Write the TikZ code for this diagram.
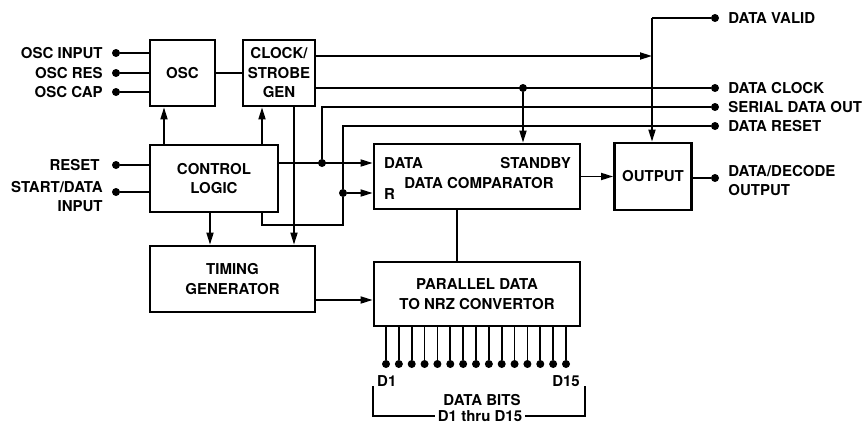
\documentclass[tikz,border=0pt]{standalone}
\usepackage{fontspec}
\setmainfont{TeX Gyre Heros}
\usetikzlibrary{arrows.meta,positioning}

\begin{document}
\begin{tikzpicture}[
            x=1pt, y=-1pt,
            font=\fontsize{15}{19.5}\selectfont\bfseries,
            block/.style={rectangle, draw, line width=2.8pt, align=center, inner sep=0pt},
            pin/.style={circle, fill, inner sep=0pt, minimum size=8pt},
            lbl/.style={inner sep=0pt},
            wire/.style={line width=1.7pt},
            arrow/.style={wire, -{Triangle[length=12pt,width=7pt]}}
        ]
            \useasboundingbox (0,0) rectangle (865,423);

            \node[block, minimum width=65pt, minimum height=66pt] (osc) at (182.5,73) {OSC};
            \node[block, minimum width=72pt, minimum height=66pt] (clk) at (279,73) {CLOCK/\\STROBE\\GEN};
            \node[block, minimum width=128pt, minimum height=67pt] (ctl) at (214,178.5) {CONTROL\\LOGIC};
            \node[block, minimum width=165pt, minimum height=66pt] (tim) at (232.5,279) {TIMING\\GENERATOR};
            \node[block, minimum width=206pt, minimum height=65pt] (cmp) at (477,176.5) {};
            \node[block, minimum width=206pt, minimum height=64pt] (par) at (477,294) {PARALLEL DATA\\TO NRZ CONVERTOR};
            \node[block, minimum width=77pt, minimum height=67pt] (out) at (653,176.5) {OUTPUT};

            \node[lbl, anchor=west] (cdata) at (384,163) {DATA};
            \node[lbl, anchor=east] (cstby) at (571,163) {STANDBY};
            \node[lbl, anchor=west] (cr) at (384,194) {R};
            \node[lbl] (cname) at (479,183) {DATA COMPARATOR};

            \node[pin] (oscin) at (116,53) {};
            \node[pin] (oscres) at (116,73) {};
            \node[pin] (osccap) at (116,92) {};
            \node[pin] (rst) at (116,165) {};
            \node[pin] (sdi) at (116,192) {};
            \node[lbl, left=9pt of oscin] (toscin) {OSC INPUT};
            \node[lbl, left=9pt of oscres] (toscres) {OSC RES};
            \node[lbl, left=9pt of osccap] (tosccap) {OSC CAP};
            \node[lbl, left=12pt of rst] (trst) {RESET};
            \node[lbl, align=right, anchor=north east] (tsdi) at ([xshift=-9pt,yshift=11pt]sdi.west) {START/DATA\\INPUT};

            \node[pin] (dvalid) at (715,18) {};
            \node[pin] (dclk) at (715,88) {};
            \node[pin] (sdo) at (715,107) {};
            \node[pin] (drst) at (715,126) {};
            \node[pin] (ddo) at (715,178) {};
            \node[lbl, right=9pt of dvalid] (tdvalid) {DATA VALID};
            \node[lbl, right=9pt of dclk] (tdclk) {DATA CLOCK};
            \node[lbl, right=9pt of sdo] (tsdo) {SERIAL DATA OUT};
            \node[lbl, right=9pt of drst] (tdrst) {DATA RESET};
            \node[lbl, align=left, anchor=north west] (tddo) at ([xshift=9pt,yshift=13pt]ddo.east) {DATA/DECODE\\OUTPUT};

            \draw[wire] (oscin) -- (oscin -| osc.west);
            \draw[wire] (oscres) -- (oscres -| osc.west);
            \draw[wire] (osccap) -- (osccap -| osc.west);
            \draw[wire] (rst) -- (rst -| ctl.west);
            \draw[wire] (sdi) -- (sdi -| ctl.west);
            \draw[wire] (osc.east) -- (clk.west);

            \coordinate (cu1) at ([xshift=-50pt]ctl.north);
            \coordinate (cu2) at ([xshift=48pt]ctl.north);
            \draw[arrow] (cu1) -- (cu1 |- osc.south);
            \draw[arrow] (cu2) -- (cu2 |- clk.south);

            % clock/strobe outputs
            \coordinate (vtop) at (652,18);
            \coordinate (clkq) at ([yshift=17pt]clk.east);
            \coordinate (clkd) at ([yshift=-15pt]clk.east);
            \draw[arrow] (clkq) -- (clkq -| vtop);
            \draw[wire] (dvalid) -- (vtop);
            \draw[arrow] (vtop) -- (vtop |- out.north);
            \node[pin] (j1) at (523,88) {};
            \draw[wire] (clkd) -- (dclk);
            \draw[arrow] (j1) -- (j1 |- cmp.north);
            \coordinate (ck) at ([xshift=15pt]clk.south);
            \draw[arrow] (ck) -- (ck |- tim.north);

            % control logic outputs
            \node[pin] (j2) at (322,163) {};
            \coordinate (ctq) at ([yshift=15.5pt]ctl.east);
            \draw[arrow] (ctq) -- (ctq -| cmp.west);
            \draw[wire] (j2) |- (sdo);
            \node[pin] (j3) at (343,193) {};
            \coordinate (ctb) at ([xshift=48pt]ctl.south);
            \coordinate (bend) at (343,225);
            \draw[wire] (ctb) |- (bend) -- (j3);
            \draw[arrow] (j3) -- (j3 -| cmp.west);
            \draw[wire] (j3) |- (drst);
            \coordinate (cd) at ([xshift=-4pt]ctl.south);
            \draw[arrow] (cd) -- (cd |- tim.north);

            \coordinate (tq) at ([yshift=-21pt]tim.east);
            \draw[arrow] (tq) -- (tq -| par.west);
            \draw[wire] ([xshift=-20pt]cmp.south) -- ([xshift=-20pt]par.north);
            \draw[arrow] (cmp.east) -- (cmp.east -| out.west);
            \draw[wire] (out.east |- ddo) -- (ddo);

            % data bits
            \foreach \i in {0,...,14} {
                \node[pin] (p\i) at ({386+12.857*\i},364) {};
                \draw[wire] (p\i) -- (p\i |- par.south);
            }
            \node[lbl, anchor=west] (dfirst) at (377,381) {D1};
            \node[lbl, anchor=east] (dlast) at (580,381) {D15};
            \node[lbl] (bits) at (482,400) {DATA BITS};
            \node[lbl, inner xsep=3pt] (range) at (480,416) {D1 thru D15};
            \coordinate (bl) at (373,386);
            \coordinate (br) at (585,386);
            \draw[line width=1.2pt] (bl) |- (range.west);
            \draw[line width=1.2pt] (br) |- (range.east);
        \end{tikzpicture}
\end{document}
